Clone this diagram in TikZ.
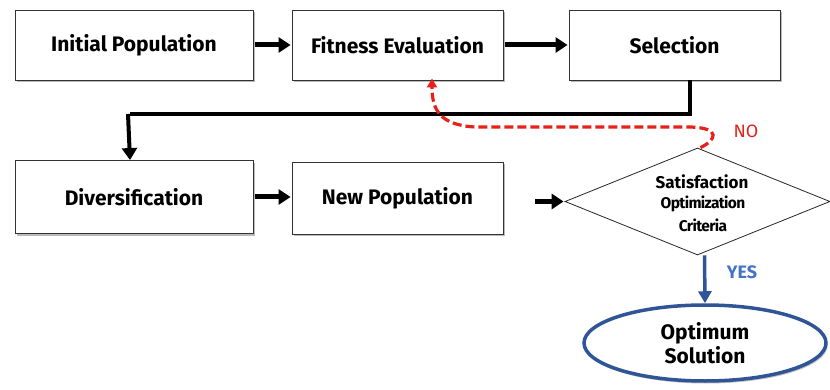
\documentclass[tikz,border=0pt]{standalone}
\usepackage{fontspec}
\setmainfont{Fira Sans}
\usetikzlibrary{shapes.geometric,arrows.meta,shadows}
\definecolor{dblue}{HTML}{2F5597}
\definecolor{lblue}{HTML}{4472C4}
\definecolor{nored}{HTML}{E8201A}
\begin{document}
\begin{tikzpicture}[x=1pt,y=-1pt,
  box/.style={draw=black!80,line width=0.9pt,fill=white,rectangle,inner sep=0pt,
    drop shadow={opacity=0.45,shadow xshift=1.5pt,shadow yshift=-2.5pt,fill=black!60},
    font=\fontsize{21}{24}\selectfont\bfseries},
  flow/.style={line width=5pt,-{Triangle[length=12pt,width=15pt]}},
  conn/.style={line width=4pt},
  dtext/.style={inner sep=0pt,font=\fontsize{15.5}{17}\selectfont\bfseries\addfontfeatures{LetterSpace=-4}}
]
\useasboundingbox (0,0) rectangle (830,390);
\node[box,minimum width=238pt,minimum height=70pt] (init) at (134,45) {Initial Population};
\node[box,minimum width=211pt,minimum height=70pt] (fit) at (397.5,45) {Fitness Evaluation};
\node[box,minimum width=211pt,minimum height=70pt] (sel) at (674.5,45) {Selection};
\node[box,minimum width=238pt,minimum height=73pt] (div) at (134,197) {Diversification};
\node[box,minimum width=211pt,minimum height=72pt] (newp) at (397.5,198) {New Population};
\node[diamond,draw=black!85,line width=0.8pt,fill=white,aspect=2.48,inner sep=0pt,
  minimum width=265pt,minimum height=107pt] (dia) at (697.5,201.5) {};
\node[inner sep=0pt,font=\fontsize{17}{19}\selectfont\bfseries] (t1) at (702,182) {Satisfaction};
\node[dtext] (t2) at (703,204) {Optimization};
\node[dtext] (t3) at (703,225) {Criteria};
\node[ellipse,draw=dblue,line width=3.5pt,fill=white,minimum width=242pt,minimum height=76pt,
  inner sep=0pt,align=center,
  drop shadow={opacity=0.4,shadow xshift=1.5pt,shadow yshift=-2.5pt,fill=black!60},
  font=\fontsize{21}{24}\selectfont\bfseries] (opt) at (705,343) {Optimum\\Solution};
\draw[flow] ([xshift=2pt]init.east) -- ([xshift=-1pt]fit.west);
\draw[flow] ([xshift=2pt]fit.east) -- ([xshift=-1pt]sel.west);
\draw[flow] ([xshift=2pt]div.east) -- ([xshift=-1pt]div.east -| newp.west);
\draw[flow] ([xshift=32pt]newp.east |- dia.west) -- ([xshift=-1pt]dia.west);
\coordinate (j1) at (690,114);
\coordinate (j2) at (130,114);
\draw[conn] (sel.south -| j1) -- (j1) -- (j2);
\draw[flow,line width=4pt] ([xshift=-2pt]j2) -- (div.north -| j2);
\draw[nored,line width=3.2pt,dash pattern=on 9pt off 4pt,-{Triangle[length=9pt,width=10pt]}]
  ([xshift=3pt]dia.north) .. controls (716,140) and (722,128) .. (690,127)
  -- (475,127) .. controls (440,125) and (432,110) .. ([yshift=2pt]fit.south -| 432,0);
\node[text=nored,font=\fontsize{18}{20}\selectfont] (no) at (746,131) {NO};
\draw[dblue,line width=3.5pt,-{Triangle[length=12pt,width=13pt]}] (dia.south) ++(7,0) -- (opt.north -| 705,0);
\node[text=lblue,font=\fontsize{18}{20}\selectfont\bfseries] (yes) at (742,272) {YES};
\end{tikzpicture}
\end{document}
